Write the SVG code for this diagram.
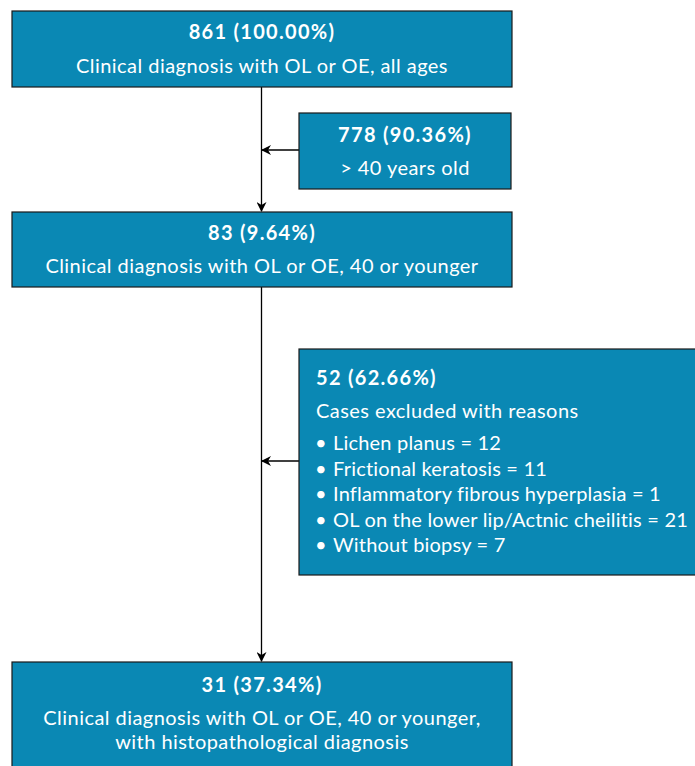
<svg xmlns="http://www.w3.org/2000/svg" width="695" height="766" viewBox="0 0 695 766">
<defs>
<marker id="ah" markerWidth="10" markerHeight="10" refX="9" refY="5" orient="auto" markerUnits="userSpaceOnUse">
<path d="M0,0 L10,5 L0,10 L3,5 Z" fill="#000"/>
</marker>
<style>
.box{fill:#0a88b4;stroke:#1a1a1a;stroke-width:1.2}
.t{font-family:Lato,"Liberation Sans",sans-serif;font-size:20px;font-weight:bold;fill:#fff;letter-spacing:1.3px}
.b{font-family:Lato,"Liberation Sans",sans-serif;font-size:20px;fill:#fff;letter-spacing:0.45px}
.l{letter-spacing:0.2px}
.c{text-anchor:middle}
.ln{stroke:#000;stroke-width:1.3;fill:none}
</style>
</defs>
<rect width="695" height="766" fill="#fff"/>
<g id="connectors">
<line class="ln" x1="261.5" y1="87" x2="261.5" y2="211" marker-end="url(#ah)"/>
<line class="ln" x1="299" y1="150" x2="262" y2="150" marker-end="url(#ah)"/>
<line class="ln" x1="261.5" y1="287" x2="261.5" y2="661" marker-end="url(#ah)"/>
<line class="ln" x1="299" y1="461" x2="262" y2="461" marker-end="url(#ah)"/>
</g>
<g id="n1">
<rect class="box" x="12" y="11" width="500" height="76"/>
<text class="t c" x="262" y="39">861 (100.00%)</text>
<text class="b c" x="262" y="73">Clinical diagnosis with OL or OE, all ages</text>
</g>
<g id="n2">
<rect class="box" x="299" y="113" width="212" height="76"/>
<text class="t c" x="405" y="142">778 (90.36%)</text>
<text class="b c" x="405" y="175">&gt; 40 years old</text>
</g>
<g id="n3">
<rect class="box" x="12" y="212" width="500" height="75"/>
<text class="t c" x="262" y="240">83 (9.64%)</text>
<text class="b c" x="262" y="273">Clinical diagnosis with OL or OE, 40 or younger</text>
</g>
<g id="n4">
<rect class="box" x="299" y="349" width="400" height="226"/>
<text class="t" x="316" y="385">52 (62.66%)</text>
<text class="b" x="316" y="418">Cases excluded with reasons</text>
<text class="b" x="315" y="450">•</text><text class="b l" x="333" y="450">Lichen planus = 12</text>
<text class="b" x="315" y="476">•</text><text class="b l" x="333" y="476">Frictional keratosis = 11</text>
<text class="b" x="315" y="501">•</text><text class="b l" x="333" y="501">Inflammatory fibrous hyperplasia = 1</text>
<text class="b" x="315" y="527">•</text><text class="b l" x="333" y="527">OL on the lower lip/Actnic cheilitis = 21</text>
<text class="b" x="315" y="552">•</text><text class="b l" x="333" y="552">Without biopsy = 7</text>
</g>
<g id="n5">
<rect class="box" x="12" y="662" width="500" height="110"/>
<text class="t c" x="262" y="692">31 (37.34%)</text>
<text class="b c" x="262" y="725">Clinical diagnosis with OL or OE, 40 or younger,</text>
<text class="b c" x="262" y="749">with histopathological diagnosis</text>
</g>
</svg>
